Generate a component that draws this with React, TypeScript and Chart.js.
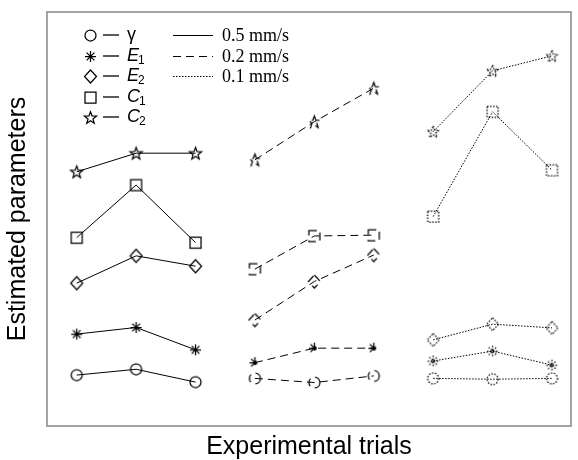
import { useEffect, useRef } from 'react';
import { Chart, registerables } from 'chart.js';

Chart.register(...registerables);

// Trial numbers, grouped by pulling speed
const trialsBySpeed = [
  [1, 2, 3],
  [4, 5, 6],
  [7, 8, 9],
];
const speedLabels = ['0.5 mm/s', '0.2 mm/s', '0.1 mm/s'];

// Estimated parameters (normalised units) for trials 1..9
const gammaValues = [12.3, 13.7, 10.6, 11.5, 10.5, 12.1, 11.5, 11.3, 11.5];
const e1Values = [22.2, 23.8, 18.4, 15.3, 18.8, 18.8, 15.7, 18.1, 14.7];
const e2Values = [34.5, 41.1, 38.6, 25.6, 34.9, 41.3, 20.8, 24.6, 23.7];
const c1Values = [45.5, 58.2, 44.3, 37.9, 45.9, 46.1, 50.6, 75.9, 61.8];
const c2Values = [61.4, 65.9, 65.9, 64.3, 73.5, 81.6, 71.1, 85.8, 89.4];

type Shape = 'circle' | 'asterisk' | 'diamond' | 'square' | 'pentagram';

const parameters: { main: string; sub: string; italic: boolean; shape: Shape; values: number[] }[] = [
  { main: 'γ', sub: '', italic: false, shape: 'circle', values: gammaValues },
  { main: 'E', sub: '1', italic: true, shape: 'asterisk', values: e1Values },
  { main: 'E', sub: '2', italic: true, shape: 'diamond', values: e2Values },
  { main: 'C', sub: '1', italic: true, shape: 'square', values: c1Values },
  { main: 'C', sub: '2', italic: true, shape: 'pentagram', values: c2Values },
];

const speedDashes: number[][] = [[], [8, 5], [1.5, 1.5]];

const TITLE_FONT = "'Liberation Sans', Arial, sans-serif";
const LABEL_FONT = "'Liberation Sans', Arial, sans-serif";
const SPEED_FONT = "'Liberation Serif', 'Times New Roman', serif";

function traceShape(ctx: CanvasRenderingContext2D, shape: Shape) {
  ctx.beginPath();
  if (shape === 'circle') {
    ctx.arc(0, 0, 5.5, 0, Math.PI * 2);
  } else if (shape === 'square') {
    ctx.rect(-5.5, -5.5, 11, 11);
  } else if (shape === 'diamond') {
    ctx.moveTo(0, -6.5);
    ctx.lineTo(6, 0);
    ctx.lineTo(0, 6.5);
    ctx.lineTo(-6, 0);
    ctx.closePath();
  } else if (shape === 'asterisk') {
    const r = 5.5;
    const d = r * Math.SQRT1_2;
    ctx.moveTo(-r, 0); ctx.lineTo(r, 0);
    ctx.moveTo(0, -r); ctx.lineTo(0, r);
    ctx.moveTo(-d, -d); ctx.lineTo(d, d);
    ctx.moveTo(-d, d); ctx.lineTo(d, -d);
  } else {
    const outer = 6.3;
    const inner = 2.6;
    for (let i = 0; i < 10; i++) {
      const r = i % 2 === 0 ? outer : inner;
      const a = -Math.PI / 2 + (i * Math.PI) / 5;
      const px = r * Math.cos(a);
      const py = r * Math.sin(a) + 0.6;
      if (i === 0) ctx.moveTo(px, py);
      else ctx.lineTo(px, py);
    }
    ctx.closePath();
  }
}

function makeMarker(shape: Shape, dash: number[]): HTMLCanvasElement {
  const size = 17;
  const c = document.createElement('canvas');
  c.width = size;
  c.height = size;
  const ctx = c.getContext('2d')!;
  ctx.translate(size / 2, size / 2);
  ctx.strokeStyle = '#000';
  ctx.lineWidth = 1.25;
  ctx.setLineDash(dash);
  traceShape(ctx, shape);
  ctx.stroke();
  return c;
}

const frameAndKey = {
  id: 'frameAndKey',
  afterDraw(chart: Chart) {
    const { ctx, chartArea } = chart;
    const { left, top, right, bottom } = chartArea;
    ctx.save();

    // plot box
    ctx.strokeStyle = '#a3a3a3';
    ctx.lineWidth = 2;
    ctx.setLineDash([]);
    ctx.strokeRect(left, top, right - left, bottom - top);

    // parameter key
    ctx.textBaseline = 'middle';
    ctx.fillStyle = '#000';
    ctx.strokeStyle = '#000';
    parameters.forEach((p, i) => {
      const y = Math.round(top + 23 + i * 20.5);
      const img = makeMarker(p.shape, []);
      ctx.drawImage(img, Math.round(left + 43 - img.width / 2), Math.round(y - img.height / 2));
      ctx.lineWidth = 1.3;
      ctx.beginPath();
      ctx.moveTo(left + 56, y);
      ctx.lineTo(left + 72, y);
      ctx.stroke();
      ctx.font = `${p.italic ? 'italic ' : ''}18px ${LABEL_FONT}`;
      ctx.textAlign = 'left';
      ctx.fillText(p.main, left + 80, y);
      if (p.sub) {
        const w = ctx.measureText(p.main).width;
        ctx.font = `12px ${LABEL_FONT}`;
        ctx.fillText(p.sub, left + 80 + w - 1, y + 5);
      }
    });

    // speed key
    speedLabels.forEach((label, i) => {
      const y = Math.round(top + 23 + i * 20.5) + 0.5;
      ctx.lineWidth = 1;
      ctx.setLineDash(speedDashes[i]);
      ctx.beginPath();
      ctx.moveTo(left + 126, y);
      ctx.lineTo(left + 166, y);
      ctx.stroke();
      ctx.setLineDash([]);
      ctx.font = `18px ${SPEED_FONT}`;
      ctx.fillText(label, left + 175, y + 1);
    });

    ctx.restore();
  },
};

export default function App() {
  const canvasRef = useRef<HTMLCanvasElement | null>(null);

  useEffect(() => {
    const canvas = canvasRef.current;
    if (!canvas) return;

    const datasets: any[] = [];
    parameters.forEach((p) => {
      trialsBySpeed.forEach((trials, s) => {
        datasets.push({
          label: `${p.main}${p.sub} ${speedLabels[s]}`,
          data: trials.map((t) => ({ x: t, y: p.values[t - 1] })),
          showLine: true,
          borderColor: '#000',
          backgroundColor: 'transparent',
          borderWidth: 1,
          borderDash: speedDashes[s],
          pointStyle: makeMarker(p.shape, speedDashes[s]),
          pointRadius: 6,
          tension: 0,
        });
      });
    });

    const chart = new Chart(canvas, {
      type: 'scatter',
      data: { datasets },
      options: {
        animation: false,
        responsive: false,
        devicePixelRatio: 1,
        layout: { padding: { top: 12, right: 1, left: 0, bottom: 0 } },
        plugins: {
          legend: { display: false },
          tooltip: { enabled: false },
        },
        scales: {
          x: {
            type: 'linear',
            min: 0.5,
            max: 9.32,
            ticks: { display: false },
            grid: { display: false, drawTicks: false },
            border: { display: false },
            title: {
              display: true,
              text: 'Experimental trials',
              color: '#000',
              font: { family: TITLE_FONT, size: 25, lineHeight: 1 },
              padding: { top: 9, bottom: 0 },
            },
          },
          y: {
            type: 'linear',
            min: 0,
            max: 100,
            ticks: { display: false },
            grid: { display: false, drawTicks: false },
            border: { display: false },
            title: {
              display: true,
              text: 'Estimated parameters',
              color: '#000',
              font: { family: TITLE_FONT, size: 25, lineHeight: 1 },
              padding: { top: 6, bottom: 16 },
            },
          },
        },
      },
      plugins: [frameAndKey],
    });

    return () => chart.destroy();
  }, []);

  return (
    <div style={{ position: 'absolute', left: 0, top: 0, width: 578, height: 460, background: '#fff' }}>
      <canvas ref={canvasRef} width={578} height={460} style={{ display: 'block' }} />
    </div>
  );
}
